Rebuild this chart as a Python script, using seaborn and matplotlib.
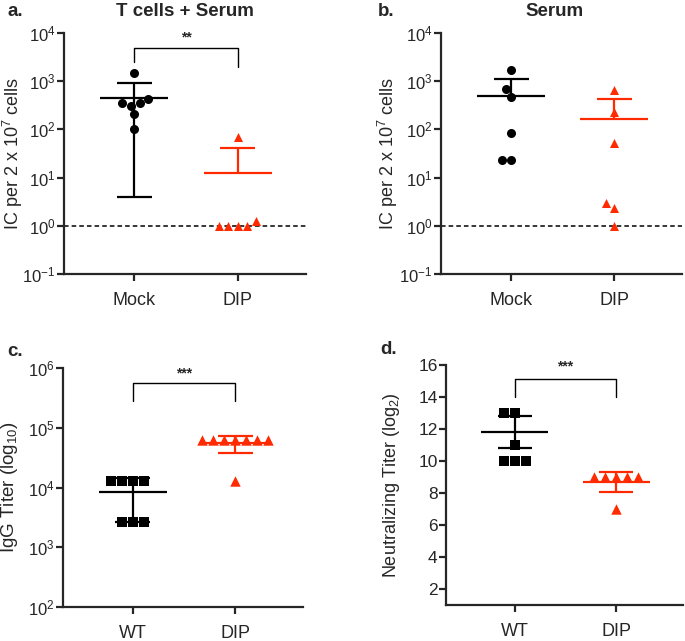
import matplotlib
matplotlib.use("Agg")

import matplotlib.pyplot as plt
import numpy as np
import pandas as pd
import seaborn as sns

sns.set_style("ticks")
plt.rcParams["font.family"] = ["Liberation Sans", "DejaVu Sans"]
plt.rcParams["mathtext.fontset"] = "custom"
plt.rcParams["mathtext.rm"] = "Liberation Sans"
plt.rcParams["mathtext.it"] = "Liberation Sans:italic"
plt.rcParams["mathtext.bf"] = "Liberation Sans:bold"
plt.rcParams["axes.unicode_minus"] = False

BLACK = "#000000"
RED = "#ff2a00"

# panel a: T cells + Serum
a_groups = ["Mock", "DIP"]
a_mock = [1470, 360, 306, 436, 348, 205, 100]
a_dip = [70, 1.23, 1.0, 1.0, 1.0, 1.0]
a_mean = [457, 12.7]
a_sd = [453, 28.8]

# panel b: Serum
b_groups = ["Mock", "DIP"]
b_mock = [1695, 681, 472, 83, 23.7, 23.7]
b_dip = [660, 231, 51, 2.97, 2.33, 1.0]
b_mean = [487, 161]
b_sd = [650, 266]

# panel c: IgG titer
c_groups = ["WT", "DIP"]
c_wt = [12700, 12700, 12700, 12700, 2600, 2600, 2600]
c_dip = [63000, 63000, 63000, 63000, 63000, 63000, 63000, 12700]
c_mean = [8450, 55600]
c_sd = [5800, 18500]

# panel d: neutralizing titer
d_groups = ["WT", "DIP"]
d_wt = [13, 13, 11, 10, 10, 10]
d_dip = [9, 9, 9, 9, 9, 7]
d_mean = [11.8, 8.69]
d_sd = [1.0, 0.6]


def draw_panel(ax, groups, first, second, means, sds, markers, log, size):
    df = pd.DataFrame({
        "group": [groups[0]] * len(first) + [groups[1]] * len(second),
        "value": list(first) + list(second),
    })
    for grp, color, marker in zip(groups, [BLACK, RED], markers):
        sns.swarmplot(data=df[df["group"] == grp], x="group", y="value",
                      order=groups, color=color, marker=marker, size=size,
                      linewidth=0, log_scale=log, ax=ax, zorder=2)
    for i, (m, s, color) in enumerate(zip(means, sds, [BLACK, RED])):
        lo = m - s
        ax.hlines(m, i - 0.33, i + 0.33, color=color, lw=1.6, zorder=3)
        ax.hlines(m + s, i - 0.17, i + 0.17, color=color, lw=1.6, zorder=3)
        if lo > 0:
            ax.vlines(i, lo, m + s, color=color, lw=1.6, zorder=3)
            ax.hlines(lo, i - 0.17, i + 0.17, color=color, lw=1.6, zorder=3)
        else:
            ax.vlines(i, m, m + s, color=color, lw=1.6, zorder=3)
    ax.set_xlim(-0.68, 1.66)
    ax.set_xlabel("")
    sns.despine(ax=ax)
    for sp in ["left", "bottom"]:
        ax.spines[sp].set_linewidth(1.6)
    ax.tick_params(axis="y", length=5, width=1.6, labelsize=12 if log else 12.5, pad=1)
    ax.tick_params(axis="x", length=5, width=1.6, labelsize=13, pad=8)
    ax.minorticks_off()


def bracket(ax, y_top, y_left, y_right, text, text_y):
    ax.plot([0, 0, 1, 1], [y_left, y_top, y_top, y_right], color="black", lw=1.0,
            clip_on=False)
    ax.text(0.5, text_y, text, ha="center", va="center", fontsize=10,
            fontweight="bold")


fig = plt.figure(figsize=(6.85, 6.41), dpi=100)
W, H = 685, 641


def add_axes(left, right, top, bottom):
    return fig.add_axes([left / W, 1 - bottom / H, (right - left) / W, (bottom - top) / H])


ax_a = add_axes(64, 306, 33, 274)
ax_b = add_axes(441, 682, 33, 274)
ax_c = add_axes(63, 303, 368, 607)
ax_d = add_axes(446, 683, 365, 605)

draw_panel(ax_a, a_groups, a_mock, a_dip, a_mean, a_sd, ["o", "^"], True, 6.5)
draw_panel(ax_b, b_groups, b_mock, b_dip, b_mean, b_sd, ["o", "^"], True, 6.5)
draw_panel(ax_c, c_groups, c_wt, c_dip, c_mean, c_sd, ["s", "^"], True, 7.5)
draw_panel(ax_d, d_groups, d_wt, d_dip, d_mean, d_sd, ["s", "^"], False, 7.5)

for ax in (ax_a, ax_b):
    ax.set_ylim(1e-1, 1e4)
    ax.set_yticks([1e-1, 1e0, 1e1, 1e2, 1e3, 1e4])
    ax.axhline(1, color="black", lw=1.1, ls=(0, (3, 2)), zorder=1)
    ax.set_ylabel("IC per 2 x 10$^7$ cells", fontsize=13)

ax_c.set_ylim(1e2, 1e6)
ax_c.set_yticks([1e2, 1e3, 1e4, 1e5, 1e6])
ax_c.set_ylabel("IgG Titer (log$_{10}$)", fontsize=13.5)

ax_d.set_ylim(1, 16)
ax_d.set_yticks(np.arange(2, 17, 2))
ax_d.set_ylabel("Neutralizing Titer (log$_2$)", fontsize=13)

ax_a.yaxis.set_label_coords(-0.163, 0.5)
ax_b.yaxis.set_label_coords(-0.172, 0.5)
ax_c.yaxis.set_label_coords(-0.18, 0.5)
ax_d.yaxis.set_label_coords(-0.186, 0.5)

bracket(ax_a, 4900, 2500, 2000, "**", 8000)
bracket(ax_c, 556000, 277000, 277000, "***", 800000)
bracket(ax_d, 15.15, 14.0, 14.0, "***", 15.9)

fig.text(7 / W, 1 - 12 / H, "a.", fontsize=13.5, fontweight="bold", va="center")
fig.text(185 / W, 1 - 12 / H, "T cells + Serum", fontsize=13.5, fontweight="bold",
         ha="center", va="center")
fig.text(378 / W, 1 - 12 / H, "b.", fontsize=13.5, fontweight="bold", va="center")
fig.text(555 / W, 1 - 12 / H, "Serum", fontsize=13.5, fontweight="bold",
         ha="center", va="center")
fig.text(7 / W, 1 - 352 / H, "c.", fontsize=13.5, fontweight="bold", va="center")
fig.text(380 / W, 1 - 350 / H, "d.", fontsize=13.5, fontweight="bold", va="center")

fig.savefig("out.png", dpi=100)
plt.close(fig)
